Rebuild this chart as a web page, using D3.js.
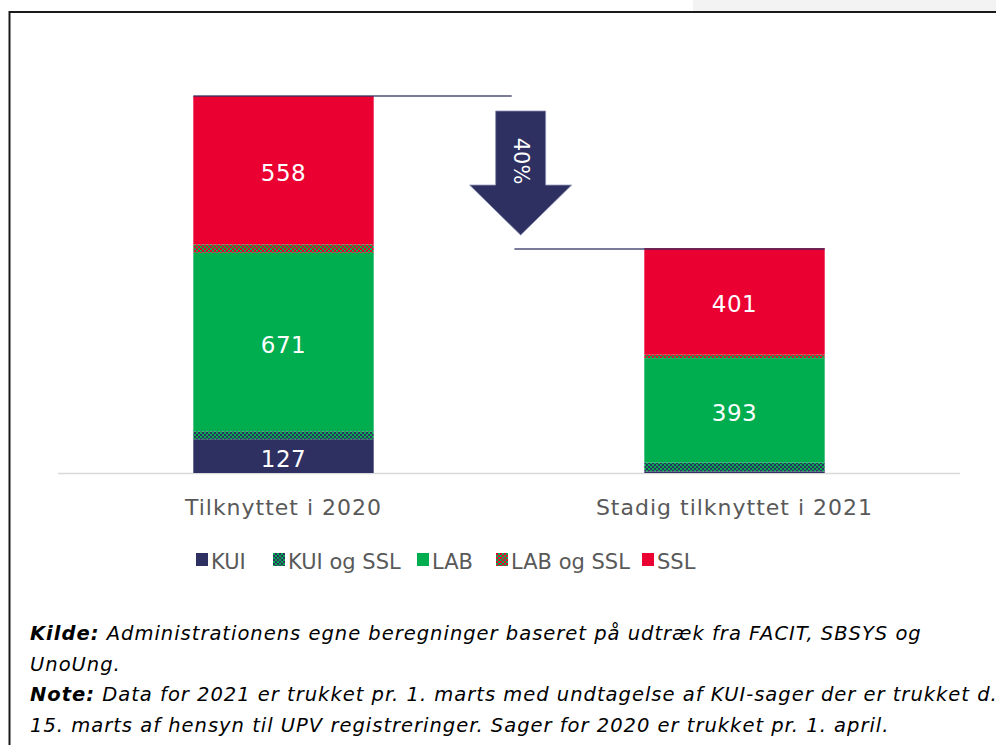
<!DOCTYPE html>
<html>
<head>
<meta charset="utf-8">
<script src="https://cdn.jsdelivr.net/npm/d3@7/dist/d3.min.js"></script>
<style>
  body { margin: 0; background: #fff; }
  svg { display: block; font-family: "DejaVu Sans", Verdana, sans-serif; }
</style>
</head>
<body>
<div id="viz"></div>
<script>
// data
var categories = ["Tilknyttet i 2020", "Stadig tilknyttet i 2021"];
var seriesNames = ["KUI", "KUI og SSL", "LAB", "LAB og SSL", "SSL"];
var KUI      = [127, 6];
var KUIogSSL = [30, 33];
var LAB      = [671, 393];
var LABogSSL = [32, 13];
var SSL      = [558, 401];

var footLines = [
	[["Kilde:", true], [" Administrationens egne beregninger baseret på udtræk fra FACIT, SBSYS og", false]],
	[["UnoUng.", false]],
	[["Note:", true], [" Data for 2021 er trukket pr. 1. marts med undtagelse af KUI-sager der er trukket d.", false]],
	[["15. marts af hensyn til UPV registreringer. Sager for 2020 er trukket pr. 1. april.", false]]
];

var ch = {};
ch.W = 996;
ch.H = 745;
ch.base = 473;
ch.top = 96;
ch.navy = "#2e3062";
ch.green = "#00ae50";
ch.red = "#eb0032";

var svg = d3.select("#viz").append("svg")
	.attr("width", ch.W)
	.attr("height", ch.H);

var defs = svg.append("defs");

function checker(id, bg, fg) {
	var p = defs.append("pattern")
		.attr("id", id)
		.attr("patternUnits", "userSpaceOnUse")
		.attr("width", 4).attr("height", 4);
	p.append("rect").attr("width", 4).attr("height", 4).attr("fill", bg);
	p.append("rect").attr("x", 0).attr("y", 0).attr("width", 2).attr("height", 2).attr("fill", fg);
	p.append("rect").attr("x", 2).attr("y", 2).attr("width", 2).attr("height", 2).attr("fill", fg);
}
checker("patKUISSL", ch.navy, ch.green);
checker("patLABSSL", ch.green, ch.red);

var fills = {
	"KUI": ch.navy,
	"KUI og SSL": "url(#patKUISSL)",
	"LAB": ch.green,
	"LAB og SSL": "url(#patLABSSL)",
	"SSL": ch.red
};

// grey strip top right and frame
svg.append("rect").attr("x", 693).attr("y", 0).attr("width", 303).attr("height", 11).attr("fill", "#f3f3f3");
svg.append("rect")
	.attr("x", 9.5).attr("y", 12)
	.attr("width", ch.W + 20).attr("height", ch.H + 20)
	.attr("fill", "none")
	.attr("stroke", "#1a1a1a")
	.attr("stroke-width", 2);

var rows = categories.map(function (c, i) {
	return { cat: c, "KUI": KUI[i], "KUI og SSL": KUIogSSL[i], "LAB": LAB[i], "LAB og SSL": LABogSSL[i], "SSL": SSL[i] };
});
var totals = rows.map(function (r) {
	return seriesNames.reduce(function (t, k) { return t + r[k]; }, 0);
});

var x = d3.scaleBand()
	.domain(categories)
	.range([58, 960])
	.paddingInner(0.6)
	.paddingOuter(0.3);

var y = d3.scaleLinear()
	.domain([0, d3.max(totals)])
	.range([ch.base, ch.top]);

var stack = d3.stack().keys(seriesNames);
var layers = stack(rows);

// axis line
svg.append("line")
	.attr("x1", 58).attr("x2", 960)
	.attr("y1", ch.base + 0.5).attr("y2", ch.base + 0.5)
	.attr("stroke", "#d9d9d9")
	.attr("stroke-width", 1.5);

var g = svg.append("g");
layers.forEach(function (layer) {
	g.selectAll(null)
		.data(layer)
		.enter()
		.append("rect")
			.attr("x", function (d) { return x(d.data.cat); })
			.attr("y", function (d) { return y(d[1]); })
			.attr("width", x.bandwidth())
			.attr("height", function (d) { return y(d[0]) - y(d[1]); })
			.attr("fill", fills[layer.key]);
});

// value labels on the main segments
layers.forEach(function (layer) {
	if (layer.key.indexOf(" og ") >= 0) return;
	g.selectAll(null)
		.data(layer.filter(function (d) { return d[1] - d[0] > 60; }))
		.enter()
		.append("text")
			.attr("x", function (d) { return x(d.data.cat) + x.bandwidth() / 2; })
			.attr("y", function (d) { return (y(d[0]) + y(d[1])) / 2 + 10.5; })
			.attr("text-anchor", "middle")
			.attr("fill", "#fff")
			.attr("font-size", 23)
			.attr("letter-spacing", 0.5)
			.text(function (d) { return d[1] - d[0]; });
});

// category labels
svg.selectAll(".cat")
	.data(categories)
	.enter()
	.append("text")
		.attr("class", "cat")
		.attr("x", function (d) { return x(d) + x.bandwidth() / 2; })
		.attr("y", 515)
		.attr("text-anchor", "middle")
		.attr("fill", "#595959")
		.attr("font-size", 22)
		.attr("letter-spacing", 1)
		.text(function (d) { return d; });

// connector lines and arrow
var b1 = x(categories[0]), b2 = x(categories[1]), bw = x.bandwidth();
var gap = b2 - (b1 + bw);
svg.append("line")
	.attr("x1", b1).attr("x2", b1 + bw + gap * 0.51)
	.attr("y1", y(totals[0])).attr("y2", y(totals[0]))
	.attr("stroke", ch.navy).attr("stroke-opacity", 0.85).attr("stroke-width", 1.5);
svg.append("line")
	.attr("x1", b1 + bw + gap * 0.52).attr("x2", b2 + bw)
	.attr("y1", y(totals[1]) + 1).attr("y2", y(totals[1]) + 1)
	.attr("stroke", ch.navy).attr("stroke-opacity", 0.85).attr("stroke-width", 1.5);

var ax = b1 + bw + gap * 0.543;
var aTop = y(totals[0]) + 15, aTip = y(totals[1]) - 13, aNeck = aTip - 50;
var arrowPts = [
	[ax - 25, aTop], [ax + 25, aTop], [ax + 25, aNeck], [ax + 51, aNeck],
	[ax, aTip], [ax - 51, aNeck], [ax - 25, aNeck]
];
svg.append("path")
	.attr("d", d3.line()(arrowPts) + "Z")
	.attr("fill", ch.navy)
	.attr("stroke", "#8c90b4")
	.attr("stroke-width", 0.8);

var pct = Math.round((1 - totals[1] / totals[0]) * 100);
svg.append("text")
	.attr("transform", "translate(" + (ax - 7) + "," + (aTop + 50) + ") rotate(90)")
	.attr("text-anchor", "middle")
	.attr("fill", "#fff")
	.attr("font-size", 21)
	.text(pct + "%");

// legend
var legX = [196, 273, 417, 496, 642];
var leg = svg.selectAll(".leg")
	.data(seriesNames)
	.enter()
	.append("g")
		.attr("class", "leg")
		.attr("transform", function (d, i) { return "translate(" + legX[i] + ",553)"; });
leg.append("rect")
	.attr("width", 12).attr("height", 13)
	.attr("fill", function (d) { return fills[d]; });
leg.append("text")
	.attr("x", 15).attr("y", 16)
	.attr("fill", "#595959")
	.attr("font-size", 21)
	.text(function (d) { return d; });

// footnote
var foot = svg.append("g")
	.attr("font-style", "italic")
	.attr("font-size", 19.5)
	.attr("letter-spacing", 1)
	.attr("fill", "#000");
footLines.forEach(function (line, i) {
	var t = foot.append("text").attr("x", 30).attr("y", 640 + i * 30.5);
	line.forEach(function (part) {
		t.append("tspan")
			.attr("font-weight", part[1] ? "bold" : "normal")
			.text(part[0]);
	});
});
</script>
</body>
</html>
